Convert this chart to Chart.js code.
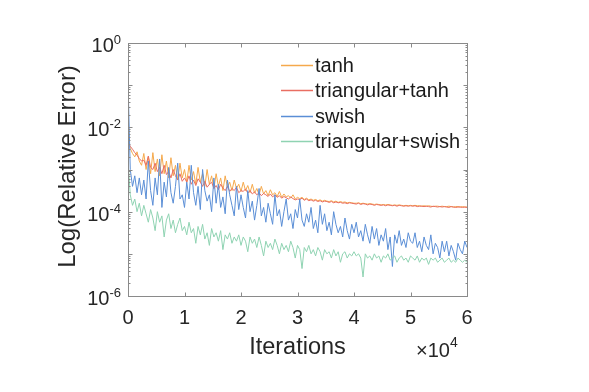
<!DOCTYPE html>
<html>
<head>
<meta charset="utf-8">
<script src="https://cdn.jsdelivr.net/npm/chart.js@4.4.0/dist/chart.umd.min.js"></script>
<style>
  html, body { margin: 0; padding: 0; background: #fff; }
  #chart { display: block; }
</style>
</head>
<body>
<canvas id="chart" width="589" height="392"></canvas>
<script>
const iterations = Array.from({length: 151}, (_, i) => i * 400);

const tanhLog = [-2.3,
  -2.5,-2.62,-2.7,-2.58,-2.8,-2.9,
  -2.62,-3.0,-2.7,-3.1,-2.6,-3.05,-2.75,-3.15,-2.65,-3.1,-2.8,-3.2,-2.72,-3.15,-2.9,-3.25,-2.85,-3.2,-3.0,
  -3.3,-2.9,-3.25,-3.05,-3.35,-2.95,-3.3,-3.1,-3.4,-3.0,-3.35,-3.15,-3.45,-3.1,-3.4,-3.2,-3.5,-3.15,-3.42,-3.3,-3.5,-3.25,-3.45,-3.35,-3.52,
  -3.3,-3.5,-3.38,-3.55,-3.35,-3.56,-3.45,-3.6,-3.4,-3.58,-3.5,-3.62,-3.48,-3.6,-3.55,-3.64,-3.52,-3.66,-3.58,-3.65,-3.62,-3.68,-3.6,-3.7,-3.66,
  -3.69,-3.66,-3.71,-3.68,-3.72,-3.7,-3.73,-3.71,-3.74,-3.72,-3.75,-3.73,-3.75,-3.76,-3.74,-3.77,-3.75,-3.78,-3.76,-3.78,-3.77,-3.79,-3.78,-3.79,-3.8,
  -3.8,-3.79,-3.81,-3.8,-3.81,-3.82,-3.81,-3.82,-3.83,-3.82,-3.83,-3.84,-3.83,-3.84,-3.83,-3.84,-3.85,-3.84,-3.85,-3.84,-3.85,-3.86,-3.85,-3.86,-3.85,
  -3.86,-3.85,-3.86,-3.86,-3.87,-3.86,-3.87,-3.86,-3.87,-3.88,-3.87,-3.87,-3.88,-3.87,-3.88,-3.88,-3.87,-3.88,-3.89,-3.88,-3.88,-3.89,-3.88,-3.89,-3.89];

const triTanhLog = [-2.35,
  -2.45,-2.52,-2.6,-2.66,-2.74,-2.8,
  -2.78,-2.9,-2.68,-2.95,-3.0,-2.85,-3.05,-2.95,-3.1,-2.9,-3.12,-3.05,-3.2,-3.0,-3.15,-3.25,-3.1,-3.28,-3.2,
  -3.3,-3.15,-3.35,-3.25,-3.38,-3.22,-3.3,-3.4,-3.28,-3.42,-3.35,-3.3,-3.45,-3.38,-3.48,-3.35,-3.44,-3.5,-3.4,-3.52,-3.45,-3.5,-3.42,-3.55,-3.5,
  -3.52,-3.46,-3.56,-3.5,-3.58,-3.53,-3.6,-3.55,-3.62,-3.57,-3.6,-3.64,-3.58,-3.65,-3.6,-3.66,-3.62,-3.68,-3.64,-3.67,-3.7,-3.65,-3.69,-3.72,-3.7,
  -3.71,-3.68,-3.73,-3.7,-3.74,-3.72,-3.75,-3.73,-3.76,-3.74,-3.77,-3.75,-3.76,-3.78,-3.76,-3.79,-3.77,-3.79,-3.78,-3.8,-3.79,-3.81,-3.79,-3.8,-3.81,
  -3.82,-3.8,-3.83,-3.81,-3.82,-3.84,-3.82,-3.83,-3.85,-3.83,-3.84,-3.85,-3.84,-3.86,-3.84,-3.85,-3.86,-3.85,-3.87,-3.85,-3.86,-3.87,-3.86,-3.87,-3.86,
  -3.87,-3.86,-3.88,-3.87,-3.87,-3.88,-3.87,-3.88,-3.89,-3.87,-3.88,-3.89,-3.88,-3.89,-3.88,-3.89,-3.9,-3.88,-3.89,-3.9,-3.89,-3.89,-3.9,-3.89,-3.9];

const swishLog = [-0.9,
  -3.0,-3.4,-3.15,-3.55,-3.2,-3.6,
  -3.25,-3.7,-2.8,-3.5,-3.85,-3.2,-3.6,-2.75,-3.9,-3.3,-3.65,-2.95,-3.55,-3.8,-3.4,-2.85,-3.7,-3.6,-3.9,
  -3.3,-3.7,-2.9,-3.55,-3.85,-3.4,-3.95,-3.0,-3.5,-3.75,-3.6,-4.0,-3.2,-3.8,-3.35,-3.9,-3.65,-4.05,-3.25,-3.6,-3.85,-4.1,-3.4,-3.95,-3.6,
  -3.9,-4.15,-3.5,-4.0,-3.75,-4.2,-3.85,-3.45,-4.1,-3.9,-4.25,-3.8,-4.05,-4.3,-3.6,-4.1,-3.95,-4.35,-4.0,-3.7,-4.2,-4.05,-4.4,-3.95,-4.15,
  -3.7,-4.2,-4.35,-4.05,-4.25,-3.9,-4.4,-4.2,-4.5,-3.85,-4.3,-4.05,-4.45,-4.25,-4.55,-4.0,-4.3,-4.5,-4.35,-4.6,-4.15,-4.45,-4.65,-4.3,-4.5,
  -4.25,-4.6,-4.45,-4.7,-4.3,-4.55,-4.75,-4.35,-4.65,-4.4,-4.8,-4.55,-4.7,-4.4,-4.9,-4.6,-5.3,-4.55,-4.75,-4.45,-4.8,-4.65,-4.85,-4.5,-4.7,
  -4.75,-4.5,-4.85,-4.7,-4.95,-4.6,-4.8,-4.9,-4.55,-5.0,-4.75,-4.85,-5.1,-4.7,-4.95,-4.7,-5.05,-4.8,-4.95,-5.15,-4.75,-4.9,-5.0,-4.7,-4.85];

const triSwishLog = [-2.8,
  -3.6,-3.85,-3.7,-4.0,-3.8,-4.1,
  -3.85,-4.05,-4.25,-3.95,-4.15,-4.45,-4.0,-4.25,-4.1,-4.6,-4.2,-4.05,-4.4,-4.2,-4.5,-4.3,-4.15,-4.45,-4.35,
  -4.55,-4.25,-4.5,-4.4,-4.75,-4.35,-4.55,-4.3,-4.65,-4.5,-4.8,-4.4,-4.6,-4.5,-4.7,-4.45,-4.9,-4.55,-4.65,-4.5,-4.75,-4.6,-4.7,-4.55,-4.8,
  -4.6,-4.7,-4.95,-4.6,-4.75,-4.65,-4.85,-4.6,-4.8,-5.05,-4.7,-4.85,-4.75,-4.9,-4.65,-4.8,-5.0,-4.75,-4.9,-4.8,-4.95,-4.7,-4.85,-5.1,-4.8,
  -4.9,-5.35,-4.85,-4.95,-4.8,-5.0,-4.9,-5.05,-4.85,-4.95,-5.15,-4.9,-5.0,-4.95,-5.1,-4.9,-5.05,-4.95,-5.2,-5.0,-4.95,-5.1,-5.0,-5.05,-4.95,
  -5.05,-5.0,-5.1,-5.55,-5.0,-5.1,-5.05,-5.15,-5.0,-5.1,-5.05,-5.2,-5.05,-5.1,-5.0,-5.15,-5.1,-5.05,-5.2,-5.1,-5.05,-5.15,-5.1,-5.2,-5.05,
  -5.1,-5.15,-5.05,-5.2,-5.1,-5.15,-5.1,-5.25,-5.1,-5.15,-5.1,-5.2,-5.15,-5.1,-5.2,-5.15,-5.1,-5.2,-5.15,-5.2,-5.1,-5.15,-5.2,-5.15,-5.2];

const seriesNames = ['tanh', 'triangular+tanh', 'swish', 'triangular+swish'];
const seriesColors = ['#f5a94c', '#e96e62', '#5a8ed6', '#8fd3b2'];
const xTickLabels = [0, 1, 2, 3, 4, 5, 6];   // x 10^4
const yTickExps = [0, -2, -4, -6];

const FONT = '"Liberation Sans", Arial, sans-serif';

function toPoints(logs) {
  return logs.map((v, i) => ({x: iterations[i], y: Math.pow(10, v)}));
}

// box, inward ticks, labels and legend in the matlab look
const matlabAxes = {
  id: 'matlabAxes',
  afterDatasetsDraw(chart) {
    const {ctx, chartArea: a, scales: {x, y}} = chart;
    const L = Math.round(a.left) + 0.5, R = Math.round(a.right) + 0.5;
    const T = Math.round(a.top) + 0.5, B = Math.round(a.bottom) + 0.5;
    const seg = (x1, y1, x2, y2) => { ctx.beginPath(); ctx.moveTo(x1, y1); ctx.lineTo(x2, y2); ctx.stroke(); };

    ctx.save();
    ctx.strokeStyle = '#8a8a8a';
    ctx.lineWidth = 1;
    ctx.strokeRect(L, T, R - L, B - T);

    xTickLabels.forEach(t => {
      const px = Math.round(x.getPixelForValue(t * 10000)) + 0.5;
      seg(px, B, px, B - 4);
      seg(px, T, px, T + 4);
    });
    for (let e = -6; e <= 0; e++) {
      const py = Math.round(y.getPixelForValue(Math.pow(10, e))) + 0.5;
      seg(L, py, L + 4, py);
      seg(R, py, R - 4, py);
      if (e < 0) {
        for (let m = 2; m <= 9; m++) {
          const pm = Math.round(y.getPixelForValue(m * Math.pow(10, e))) + 0.5;
          seg(L, pm, L + 2, pm);
          seg(R, pm, R - 2, pm);
        }
      }
    }

    ctx.fillStyle = '#262626';
    // x tick labels
    ctx.font = '20px ' + FONT;
    ctx.textAlign = 'center';
    ctx.textBaseline = 'alphabetic';
    xTickLabels.forEach(t => ctx.fillText(String(t), x.getPixelForValue(t * 10000), 324));

    // y tick labels 10^n
    yTickExps.forEach(e => {
      const py = y.getPixelForValue(Math.pow(10, e));
      const exp = e < 0 ? '-' + Math.abs(e) : String(e);
      ctx.font = '13px ' + FONT;
      const we = ctx.measureText(exp).width;
      ctx.textAlign = 'left';
      const right = a.left - 7;
      ctx.fillText(exp, right - we, py + 1);
      ctx.font = '20px ' + FONT;
      ctx.textAlign = 'right';
      ctx.fillText('10', right - we, py + 9);
    });

    // axis titles
    ctx.font = '23.5px ' + FONT;
    ctx.textAlign = 'center';
    ctx.fillText('Iterations', (a.left + a.right) / 2, 354);
    ctx.save();
    ctx.translate(75, (a.top + a.bottom) / 2 - 3);
    ctx.rotate(-Math.PI / 2);
    ctx.font = '24px ' + FONT;
    ctx.fillText('Log(Relative Error)', 0, 0);
    ctx.restore();

    // x10^4 multiplier
    ctx.textAlign = 'left';
    ctx.font = '20px ' + FONT;
    ctx.fillText('\u00d710', 416, 357);
    const w10 = ctx.measureText('\u00d710').width;
    ctx.font = '14px ' + FONT;
    ctx.fillText('4', 416 + w10, 347);

    // legend
    ctx.font = '20px ' + FONT;
    ctx.textBaseline = 'middle';
    seriesNames.forEach((name, i) => {
      const ly = Math.round(65 + i * 25.3) + 0.5;
      ctx.strokeStyle = seriesColors[i];
      ctx.lineWidth = 1.5;
      seg(281, ly, 313, ly);
      ctx.fillStyle = '#1a1a1a';
      ctx.fillText(name, 315, ly + 1);
    });
    ctx.restore();
  }
};

const logs = [tanhLog, triTanhLog, swishLog, triSwishLog];

new Chart(document.getElementById('chart'), {
  type: 'line',
  data: {
    datasets: logs.map((l, i) => ({
      label: seriesNames[i],
      data: toPoints(l),
      borderColor: seriesColors[i],
      borderWidth: 1,
      pointRadius: 0,
      tension: 0,
      fill: false,
      order: 4 - i
    }))
  },
  options: {
    responsive: false,
    animation: false,
    events: [],
    layout: { padding: { left: 128, right: 122, top: 43, bottom: 96 } },
    plugins: { legend: { display: false }, tooltip: { enabled: false } },
    scales: {
      x: { type: 'linear', min: 0, max: 60000, display: false },
      y: { type: 'logarithmic', min: 1e-6, max: 1, display: false }
    }
  },
  plugins: [matlabAxes]
});
</script>
</body>
</html>
